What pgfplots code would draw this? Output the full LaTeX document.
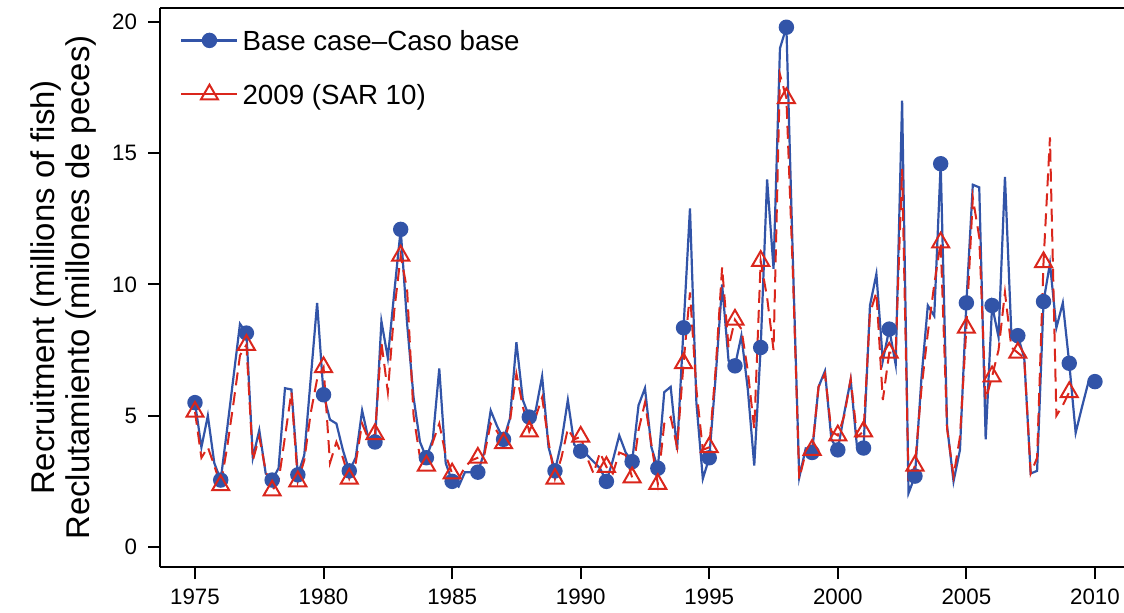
\documentclass[border=0pt]{standalone}
\usepackage{pgfplots}
\pgfplotsset{compat=1.18}
\usepackage{pgfplotstable}
\usepackage{fontspec}
\setmainfont{Liberation Sans}

\definecolor{basecol}{RGB}{50,84,168}
\definecolor{sarcol}{RGB}{218,38,28}

% quarterly recruitment, base case
\pgfplotstableread{
yr v
1975.00 5.5
1975.25 3.8
1975.50 5.0
1975.75 3.2
1976.00 2.55
1976.25 4.5
1976.50 6.5
1976.75 8.5
1977.00 8.15
1977.25 3.4
1977.50 4.45
1977.75 2.8
1978.00 2.55
1978.25 3.0
1978.50 6.05
1978.75 6.0
1979.00 2.75
1979.25 3.5
1979.50 6.4
1979.75 9.3
1980.00 5.8
1980.25 4.85
1980.50 4.7
1980.75 3.7
1981.00 2.9
1981.25 3.4
1981.50 5.2
1981.75 4.1
1982.00 4.0
1982.25 8.6
1982.50 7.2
1982.75 9.7
1983.00 12.1
1983.25 8.5
1983.50 5.7
1983.75 4.0
1984.00 3.4
1984.25 4.1
1984.50 6.8
1984.75 3.2
1985.00 2.5
1985.25 2.3
1985.50 2.85
1985.75 2.85
1986.00 2.85
1986.25 3.6
1986.50 5.2
1986.75 4.6
1987.00 4.1
1987.25 4.9
1987.50 7.8
1987.75 5.6
1988.00 4.95
1988.25 5.2
1988.50 6.5
1988.75 3.8
1989.00 2.9
1989.25 4.0
1989.50 5.6
1989.75 3.9
1990.00 3.65
1990.25 3.5
1990.50 3.25
1990.75 3.0
1991.00 2.5
1991.25 3.3
1991.50 4.25
1991.75 3.6
1992.00 3.25
1992.25 5.4
1992.50 6.05
1992.75 3.8
1993.00 3.0
1993.25 5.9
1993.50 6.1
1993.75 3.7
1994.00 8.35
1994.25 12.9
1994.50 5.5
1994.75 2.6
1995.00 3.4
1995.25 6.5
1995.50 10.0
1995.75 7.1
1996.00 6.9
1996.25 8.05
1996.50 6.0
1996.75 3.1
1997.00 7.6
1997.25 14.0
1997.50 10.6
1997.75 19.0
1998.00 19.8
1998.25 11.0
1998.50 2.65
1998.75 3.75
1999.00 3.6
1999.25 6.1
1999.50 6.7
1999.75 4.1
2000.00 3.7
2000.25 5.1
2000.50 6.37
2000.75 3.77
2001.00 3.77
2001.25 9.2
2001.50 10.4
2001.75 7.1
2002.00 8.3
2002.25 6.95
2002.50 17.0
2002.75 2.05
2003.00 2.7
2003.25 6.4
2003.50 9.2
2003.75 8.8
2004.00 14.6
2004.25 4.6
2004.50 2.5
2004.75 3.7
2005.00 9.3
2005.25 13.8
2005.50 13.7
2005.75 4.1
2006.00 9.2
2006.25 8.0
2006.50 14.1
2006.75 8.1
2007.00 8.05
2007.25 7.2
2007.50 2.8
2007.75 2.9
2008.00 9.35
2008.25 10.8
2008.50 8.35
2008.75 9.3
2009.00 7.0
2009.25 4.35
2009.50 5.35
2009.75 6.3
2010.00 6.3
}\basecase

% 2009 assessment (SAR 10)
\pgfplotstableread{
yr v
1975.00 5.15
1975.25 3.4
1975.50 3.8
1975.75 3.1
1976.00 2.35
1976.25 3.8
1976.50 5.5
1976.75 7.3
1977.00 7.7
1977.25 3.3
1977.50 4.2
1977.75 2.9
1978.00 2.15
1978.25 2.5
1978.50 4.2
1978.75 5.9
1979.00 2.5
1979.25 3.3
1979.50 5.1
1979.75 6.4
1980.00 6.85
1980.25 3.2
1980.50 4.0
1980.75 3.4
1981.00 2.6
1981.25 3.2
1981.50 4.7
1981.75 4.1
1982.00 4.3
1982.25 7.8
1982.50 5.9
1982.75 9.0
1983.00 11.1
1983.25 9.8
1983.50 5.0
1983.75 3.4
1984.00 3.1
1984.25 4.0
1984.50 4.7
1984.75 3.5
1985.00 2.8
1985.25 2.6
1985.50 3.05
1985.75 3.3
1986.00 3.4
1986.25 3.5
1986.50 4.7
1986.75 4.4
1987.00 3.95
1987.25 4.8
1987.50 6.6
1987.75 5.35
1988.00 4.4
1988.25 4.95
1988.50 5.7
1988.75 4.0
1989.00 2.6
1989.25 3.4
1989.50 4.5
1989.75 4.1
1990.00 4.2
1990.25 3.4
1990.50 2.8
1990.75 3.6
1991.00 3.05
1991.25 2.8
1991.50 3.6
1991.75 3.5
1992.00 2.65
1992.25 4.45
1992.50 5.5
1992.75 3.9
1993.00 2.4
1993.25 4.7
1993.50 4.95
1993.75 3.8
1994.00 7.0
1994.25 9.7
1994.50 6.0
1994.75 3.7
1995.00 3.8
1995.25 6.8
1995.50 10.65
1995.75 7.6
1996.00 8.66
1996.25 8.3
1996.50 6.7
1996.75 4.5
1997.00 10.9
1997.25 9.5
1997.50 7.5
1997.75 18.0
1998.00 17.1
1998.25 10.5
1998.50 2.6
1998.75 3.6
1999.00 3.7
1999.25 6.1
1999.50 6.6
1999.75 4.4
2000.00 4.25
2000.25 5.0
2000.50 6.4
2000.75 4.2
2001.00 4.4
2001.25 8.9
2001.50 9.7
2001.75 5.6
2002.00 7.4
2002.25 7.4
2002.50 14.4
2002.75 2.45
2003.00 3.1
2003.25 6.0
2003.50 8.15
2003.75 10.0
2004.00 11.6
2004.25 4.5
2004.50 2.7
2004.75 4.2
2005.00 8.35
2005.25 13.3
2005.50 11.8
2005.75 5.6
2006.00 6.5
2006.25 7.5
2006.50 9.7
2006.75 7.6
2007.00 7.4
2007.25 7.2
2007.50 2.8
2007.75 3.4
2008.00 10.85
2008.25 15.6
2008.50 5.0
2008.75 5.4
2009.00 5.9
}\sarten

\begin{document}
\begin{tikzpicture}
\path[use as bounding box] (-80bp,-23bp) rectangle (482bp,283.5bp);
\begin{axis}[
  scale only axis,
  width=482bp, height=279.5bp,
  xmin=1973.639, xmax=2011.13,
  ymin=-0.762, ymax=20.533,
  axis x line*=box, axis y line*=left,
  xtick pos=bottom, ytick pos=left,
  xtick={1975,1980,...,2010},
  ytick={0,5,10,15,20},
  tick align=outside,
  major tick length=6bp,
  axis line style={line width=1bp, black},
  every tick/.style={line width=1bp, black},
  /pgf/number format/assume math mode=true,
  /pgf/number format/1000 sep={},
  ticklabel style={font=\fontsize{11.2}{13}\selectfont},
  xticklabel style={yshift=-1.5bp},
  yticklabel style={xshift=-2bp},
  ylabel={Recruitment (millions of fish)\\Reclutamiento (millones de peces)},
  ylabel style={at={(axis description cs:-0.1,0.5)}, anchor=center, align=center,
    font=\fontsize{16.5}{17.5}\selectfont},
  legend style={at={(axis description cs:0,1)}, anchor=north west,
    xshift=7bp, yshift=-7bp, draw=none, fill=none,
    font=\fontsize{13.9}{15}\selectfont, row sep=13bp,
    nodes={inner sep=2bp}},
  legend cell align=left,
  legend image code/.code={\draw[mark repeat=2,mark phase=2,#1]
    plot coordinates {(0bp,0bp) (14bp,0bp) (28bp,0bp)};},
  legend style={nodes={text depth=0pt}, /tikz/every even column/.append style={column sep=7bp}},
]
\addplot[color=basecol, line width=1.1bp, mark=*, mark repeat=4,
  mark size=3.3bp, mark options={solid, fill=basecol, draw=basecol}]
  table[x=yr, y=v] {\basecase};
\addlegendentry{Base case\textendash Caso base}
\addlegendimage{color=sarcol, line width=1bp, solid, mark=triangle, mark size=4.9bp,
  mark options={solid, line width=1bp}}
\addlegendentry{2009 (SAR 10)}
\addplot[forget plot, color=sarcol, line width=1bp, dash pattern=on 6.5bp off 3.5bp,
  mark=triangle, mark repeat=4, mark size=4.9bp,
  mark options={solid, line width=1bp, fill=none}]
  table[x=yr, y=v] {\sarten};
\end{axis}
\end{tikzpicture}
\end{document}
